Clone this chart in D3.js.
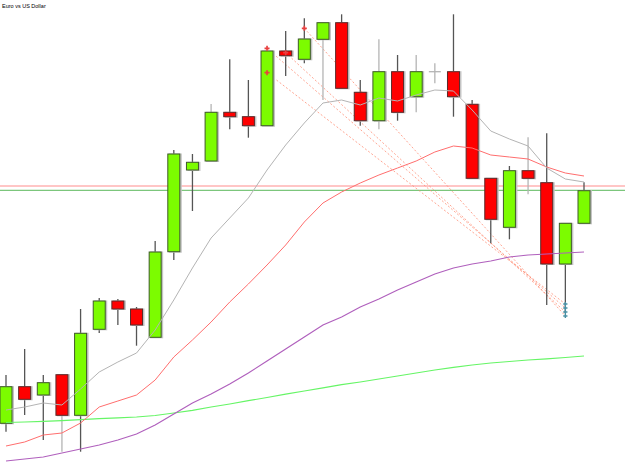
<!DOCTYPE html>
<html>
<head>
<meta charset="utf-8">
<script src="https://cdn.jsdelivr.net/npm/d3@7"></script>
<style>
  body { margin: 0; background: #fff; }
  svg { display: block; }
</style>
</head>
<body>
<script>
// EURUSD candles, oldest first
let opens  = [1.15767, 1.16133, 1.16050, 1.16253, 1.15847, 1.16707, 1.16990, 1.16910, 1.16627, 1.17483,
              1.18300, 1.18390, 1.18877, 1.18833, 1.18743, 1.19490, 1.19407, 1.19607, 1.19773, 1.19077,
              1.18793, 1.19283, 1.19033, 1.19283, 1.19283, 1.18957, 1.18217, 1.17727, 1.18293, 1.18173,
              1.17360, 1.17767];
let highs  = [1.16250, 1.16510, 1.16250, 1.16253, 1.16910, 1.17020, 1.17010, 1.16930, 1.17590, 1.18500,
              1.18460, 1.18960, 1.19407, 1.19200, 1.19490, 1.19690, 1.19817, 1.19773, 1.19857, 1.19200,
              1.19607, 1.19450, 1.19450, 1.19367, 1.19857, 1.19000, 1.18217, 1.18340, 1.18627, 1.18667,
              1.17767, 1.18177];
let lows   = [1.15683, 1.15850, 1.15600, 1.15483, 1.15483, 1.16670, 1.16750, 1.16543, 1.16627, 1.17400,
              1.17890, 1.18390, 1.18707, 1.18623, 1.18743, 1.19240, 1.19367, 1.19000, 1.19117, 1.18743,
              1.18707, 1.18793, 1.18877, 1.19167, 1.18833, 1.18217, 1.17567, 1.17607, 1.18057, 1.16950,
              1.16870, 1.17767];
let closes = [1.16133, 1.16007, 1.16173, 1.15847, 1.16667, 1.16990, 1.16910, 1.16750, 1.17480, 1.18460,
              1.18377, 1.18877, 1.18833, 1.18743, 1.19490, 1.19443, 1.19610, 1.19773, 1.19117, 1.18793,
              1.19283, 1.18877, 1.19283, 1.19283, 1.19033, 1.18217, 1.17807, 1.18293, 1.18217, 1.17360,
              1.17767, 1.18093];

// moving averages
let maFast = [1.1590, 1.1593, 1.1597, 1.1595, 1.1611, 1.1628, 1.1638, 1.1647, 1.1670, 1.1700,
              1.1732, 1.1762, 1.1782, 1.1802, 1.1830, 1.1855, 1.1877, 1.1897, 1.1900, 1.1895,
              1.1902, 1.1899, 1.1905, 1.1910, 1.1909, 1.1890, 1.1869, 1.1861, 1.1854, 1.1832,
              1.1821, 1.1818];
let maMid  = [1.1554, 1.1558, 1.1565, 1.1567, 1.1577, 1.1593, 1.1599, 1.1605, 1.1620, 1.1643,
              1.1660, 1.1678, 1.1698, 1.1716, 1.1735, 1.1755, 1.1778, 1.1797, 1.1808, 1.1817,
              1.1825, 1.1832, 1.1839, 1.1848, 1.1854, 1.1852, 1.1845, 1.1843, 1.1841, 1.1833,
              1.1827, 1.1824];
let maSlow = [1.1539, 1.1541, 1.1543, 1.1547, 1.1551, 1.1555, 1.1560, 1.1566, 1.1575, 1.1586,
              1.1597, 1.1606, 1.1616, 1.1627, 1.1639, 1.1651, 1.1663, 1.1675, 1.1683, 1.1693,
              1.1701, 1.1710, 1.1718, 1.1726, 1.1732, 1.1736, 1.1739, 1.1743, 1.1745, 1.1746,
              1.1747, 1.1748];
let maLong = [1.15775, 1.1578, 1.15787, 1.15794, 1.15803, 1.15813, 1.15822, 1.1583, 1.15845, 1.1587,
              1.15897, 1.1593, 1.1596, 1.15993, 1.16025, 1.16058, 1.1609, 1.16122, 1.16153, 1.1618,
              1.1621, 1.1624, 1.1627, 1.1630, 1.16327, 1.1635, 1.1637, 1.16385, 1.1640, 1.16412,
              1.16425, 1.1644];

let askLevel = 1.1814;
let bidLevel = 1.18097;

// trend lines: [startIndex, startPrice, endIndex, endPrice]
let trendLines = [
  [14, 1.19273, 30, 1.1696],
  [14, 1.19517, 30, 1.1692],
  [15, 1.19473, 30, 1.1688],
  [16, 1.19717, 30, 1.1684]
];

let W = 625, H = 473;

let svg = d3.select("body").append("svg")
    .attr("width", W)
    .attr("height", H);

svg.append("rect").attr("width", W).attr("height", H).attr("fill", "#fff");

let x = d3.scaleLinear().domain([0, closes.length - 1]).range([6, 584]);
let y = d3.scaleLinear().domain([1.2, 1.2 - 0.0473]).range([0, H]);

// bid / ask lines
svg.append("line")
    .attr("x1", 0).attr("x2", W)
    .attr("y1", y(askLevel)).attr("y2", y(askLevel))
    .attr("stroke", "#ff8c8c").attr("stroke-width", 1);
svg.append("line")
    .attr("x1", 0).attr("x2", W)
    .attr("y1", y(bidLevel)).attr("y2", y(bidLevel))
    .attr("stroke", "#5cb85c").attr("stroke-width", 1);

// dotted trend lines
svg.selectAll(".trend")
    .data(trendLines)
    .enter()
    .append("line")
    .attr("x1", d => x(d[0])).attr("y1", d => y(d[1]))
    .attr("x2", d => x(d[2])).attr("y2", d => y(d[3]))
    .attr("stroke", "#ff8a70")
    .attr("stroke-width", 1)
    .attr("stroke-dasharray", "2,2")
    .attr("opacity", 0.75);

// candles
let candles = opens.map((o, i) => ({ i: i, o: o, h: highs[i], l: lows[i], c: closes[i] }));
let lightWick = [3, 11, 17, 20, 22, 23, 28];
let bw = 12;

let g = svg.selectAll(".candle")
    .data(candles)
    .enter()
    .append("g");

g.append("line")
    .attr("x1", d => x(d.i)).attr("x2", d => x(d.i))
    .attr("y1", d => y(d.h)).attr("y2", d => y(d.l))
    .attr("stroke", d => lightWick.includes(d.i) ? "#b4b4b4" : "#555")
    .attr("stroke-width", 1.3);

let bodies = g.filter(d => d.o !== d.c);

// soft shadow on the right edge
bodies.append("rect")
    .attr("x", d => x(d.i) - bw / 2 + 1)
    .attr("y", d => y(Math.max(d.o, d.c)) - 0.5)
    .attr("width", bw + 1)
    .attr("height", d => y(Math.min(d.o, d.c)) - y(Math.max(d.o, d.c)) + 1.5)
    .attr("fill", "#c4c4c4");

bodies.append("rect")
    .attr("x", d => x(d.i) - bw / 2)
    .attr("y", d => y(Math.max(d.o, d.c)))
    .attr("width", bw)
    .attr("height", d => y(Math.min(d.o, d.c)) - y(Math.max(d.o, d.c)))
    .attr("fill", d => d.c > d.o ? "#7cfc00" : "#ff0000")
    .attr("stroke", d => d.c > d.o ? "#3f5a2a" : "#5a2a2a")
    .attr("stroke-width", 1);

// doji
g.filter(d => d.o === d.c)
    .append("line")
    .attr("x1", d => x(d.i) - bw / 2).attr("x2", d => x(d.i) + bw / 2)
    .attr("y1", d => y(d.o)).attr("y2", d => y(d.o))
    .attr("stroke", "#b4b4b4").attr("stroke-width", 1.3);

// moving averages
let line = d3.line().x((d, i) => x(i)).y(d => y(d));

svg.append("path").datum(maLong).attr("d", line)
    .attr("fill", "none").attr("stroke", "#66f566").attr("stroke-width", 1.2);
svg.append("path").datum(maSlow).attr("d", line)
    .attr("fill", "none").attr("stroke", "#b060bd").attr("stroke-width", 1.2);
svg.append("path").datum(maMid).attr("d", line)
    .attr("fill", "none").attr("stroke", "#ff6e6e").attr("stroke-width", 1);
svg.append("path").datum(maFast).attr("d", line)
    .attr("fill", "none").attr("stroke", "#b4b4b4").attr("stroke-width", 1);

// trend line markers
let cross = d3.symbol().type(d3.symbolCross);

svg.selectAll(".startMark")
    .data(trendLines)
    .enter()
    .append("path")
    .attr("transform", d => "translate(" + x(d[0]) + "," + y(d[1]) + ")")
    .attr("d", cross.size(14))
    .attr("fill", "#e84040");

svg.selectAll(".endMark")
    .data(trendLines)
    .enter()
    .append("path")
    .attr("transform", d => "translate(" + x(d[2]) + "," + y(d[3]) + ")")
    .attr("d", cross.size(10))
    .attr("fill", "#4a90a4");

// title
svg.append("text")
    .attr("x", 2)
    .attr("y", 8)
    .attr("font-family", "Liberation Sans, Arial, sans-serif")
    .attr("font-size", 5.5)
    .attr("fill", "#000")
    .text("Euro vs US Dollar");
</script>
</body>
</html>
